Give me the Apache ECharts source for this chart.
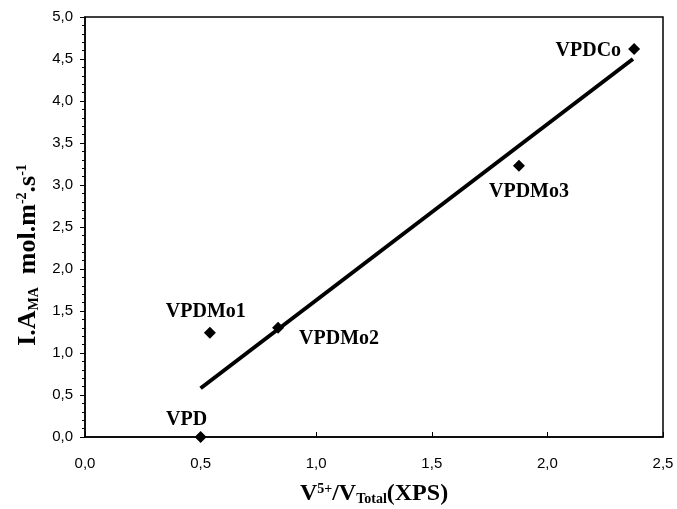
<!DOCTYPE html>
<html><head><meta charset="utf-8">
<script src="https://cdn.jsdelivr.net/npm/echarts@6/dist/echarts.min.js"></script>
<style>html,body{margin:0;padding:0;background:#fff}#c{width:677px;height:509px}</style>
</head><body><div id="c"></div>
<script>
const names = ['VPD','VPDMo1','VPDMo2','VPDMo3','VPDCo'];
const xVals = [0.50, 0.54, 0.835, 1.877, 2.375];
const yVals = [0.00, 1.24, 1.30, 3.23, 4.62];
const labelPos = ['top','top','right','bottom','left'];
const fitLine = [[0.50, 0.58],[2.37, 4.50]];
const fmt = v => v.toFixed(1).replace('.', ',');

const chart = echarts.init(document.getElementById('c'));
const labelStyle = {fontFamily:'Liberation Serif', fontWeight:'bold', fontSize:20, color:'#000'};
const offsets = [[-14,4],[-4,0],[10,11],[10,5],[-2,2]];
chart.setOption({
  animation:false,
  grid:{left:85,right:14,top:17,bottom:72,show:true,borderColor:'#000',borderWidth:1.5,outerBoundsMode:'none',containLabel:false},
  xAxis:{type:'value',min:0,max:2.5,interval:0.5,
    axisLine:{onZero:false,lineStyle:{color:'#000',width:1.5}},
    axisTick:{inside:true,length:5,lineStyle:{color:'#000'}},
    splitLine:{show:false},
    axisLabel:{formatter:fmt,color:'#000',fontFamily:'Liberation Sans',fontSize:15,margin:19},
    name:'{b|V}{sp|5+}{b|/V}{sb|Total}{b|(XPS)}',nameLocation:'middle',nameGap:45,
    nameTextStyle:{rich:{
      b:{fontFamily:'Liberation Serif',fontWeight:'bold',fontSize:24,color:'#000'},
      sp:{fontFamily:'Liberation Serif',fontWeight:'bold',fontSize:14,color:'#000',verticalAlign:'top',padding:[0,0,10,0]},
      sb:{fontFamily:'Liberation Serif',fontWeight:'bold',fontSize:14,color:'#000',verticalAlign:'bottom',padding:[10,0,0,0]}
    }}
  },
  yAxis:{type:'value',min:0,max:5,interval:0.5,
    axisLine:{lineStyle:{color:'#000',width:1.5}},
    axisTick:{length:5,lineStyle:{color:'#000'}},
    minorTick:{show:true,splitNumber:5,length:3,lineStyle:{color:'#000'}},
    splitLine:{show:false},
    axisLabel:{formatter:fmt,color:'#000',fontFamily:'Liberation Sans',fontSize:15,margin:12},
    name:'{b|I.A}{sb|MA}{b|  mol.m}{sp|-2}{b|.s}{sp|-1}',nameLocation:'middle',nameGap:42,nameRotate:90,
    nameTextStyle:{padding:[0,56,0,0],rich:{
      b:{fontFamily:'Liberation Serif',fontWeight:'bold',fontSize:26,color:'#000'},
      sp:{fontFamily:'Liberation Serif',fontWeight:'bold',fontSize:14,color:'#000',verticalAlign:'top',padding:[0,0,12,0]},
      sb:{fontFamily:'Liberation Serif',fontWeight:'bold',fontSize:14,color:'#000',verticalAlign:'bottom',padding:[12,0,0,0]}
    }}
  },
  series:[
    {type:'line',data:fitLine,symbol:'none',lineStyle:{color:'#000',width:4},z:2},
    {type:'scatter',symbol:'diamond',symbolSize:12,itemStyle:{color:'#000',opacity:1},z:3,
     data:xVals.map((x,i)=>({value:[x,yVals[i]],
       label:{show:true,position:labelPos[i],formatter:names[i],offset:offsets[i],...labelStyle}}))}
  ]
});
</script></body></html>
